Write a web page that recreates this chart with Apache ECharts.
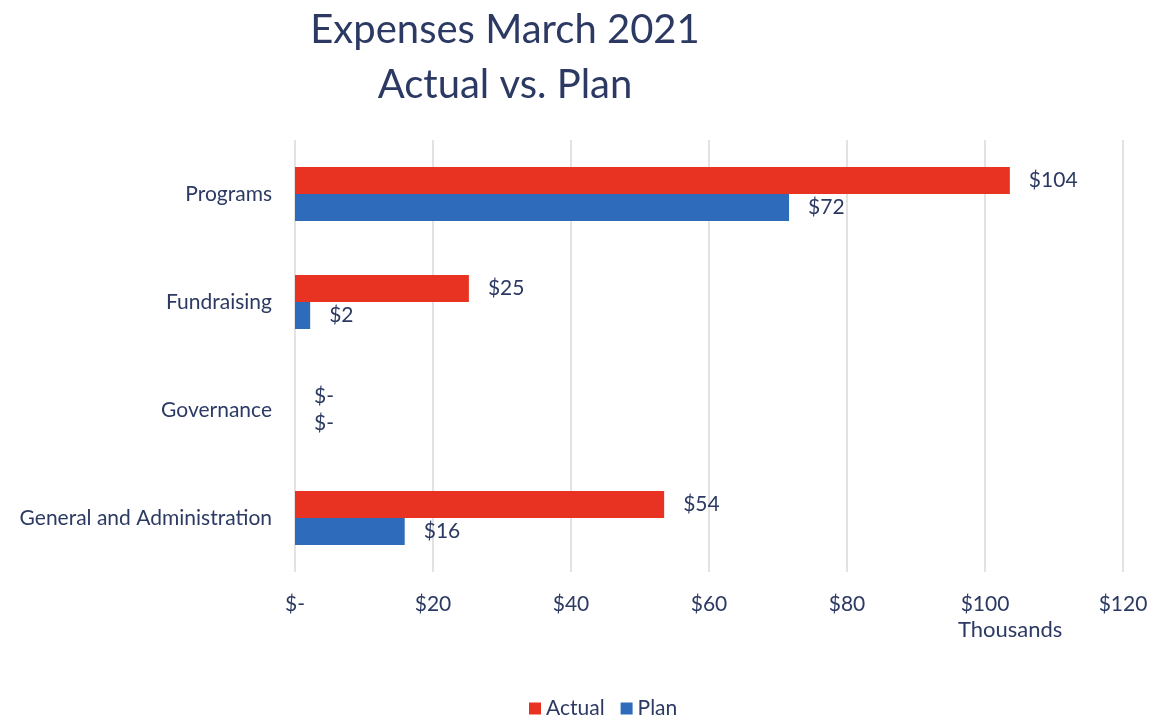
<!DOCTYPE html>
<html>
<head>
<meta charset="utf-8">
<script src="https://cdn.jsdelivr.net/npm/echarts@6/dist/echarts.min.js"></script>
<style>
html,body{margin:0;padding:0;background:#fff;}
#chart{width:1152px;height:718px;}
</style>
</head>
<body>
<div id="chart"></div>
<script>
const categories = ['Programs', 'Fundraising', 'Governance', 'General and Administration'];
const actualValues = [103.6, 25.2, 0, 53.5];
const planValues = [71.6, 2.2, 0, 15.9];
const xTicks = { min: 0, max: 120, interval: 20 };

const navy = '#2c3a63';
const font = 'Lato, "Open Sans", sans-serif';
const money = v => (v === 0 ? '$-' : '$' + Math.round(v));

const chart = echarts.init(document.getElementById('chart'));
chart.setOption({
  animation: false,
  textStyle: { fontFamily: font },
  title: {
    text: 'Expenses March 2021\nActual vs. Plan',
    left: 500, top: -2, textAlign: 'center',
    textStyle: { color: navy, fontSize: 40, fontWeight: 'normal', lineHeight: 55, fontFamily: font }
  },
  legend: {
    bottom: -6, left: 524,
    itemWidth: 12, itemHeight: 12, itemGap: 16,
    icon: 'rect',
    textStyle: { color: navy, fontSize: 21, fontFamily: font },
    data: ['Actual', 'Plan']
  },
  grid: { left: 295, right: 29, top: 140, bottom: 146, containLabel: false },
  xAxis: {
    type: 'value',
    min: xTicks.min, max: xTicks.max, interval: xTicks.interval,
    axisLine: { show: false }, axisTick: { show: false },
    splitLine: { show: true, lineStyle: { color: '#d9d9d9', width: 1.5 } },
    axisLabel: { color: navy, fontSize: 21, margin: 22, formatter: money }
  },
  yAxis: {
    type: 'category', data: categories, inverse: true,
    axisLine: { show: false }, axisTick: { show: false },
    axisLabel: { color: navy, fontSize: 21, margin: 23 }
  },
  graphic: [{
    type: 'text', left: 958, top: 619,
    style: { text: 'Thousands', fill: navy, font: '22px ' + font }
  }],
  series: [
    {
      name: 'Actual', type: 'bar', data: actualValues,
      barWidth: '25%', barGap: '0%',
      itemStyle: { color: '#e83323' },
      label: { show: true, position: 'right', distance: 19, color: navy, fontSize: 21, formatter: p => money(p.value) }
    },
    {
      name: 'Plan', type: 'bar', data: planValues,
      barWidth: '25%', barGap: '0%',
      itemStyle: { color: '#2e6bba' },
      label: { show: true, position: 'right', distance: 19, color: navy, fontSize: 21, formatter: p => money(p.value) }
    }
  ]
});
</script>
</body>
</html>
